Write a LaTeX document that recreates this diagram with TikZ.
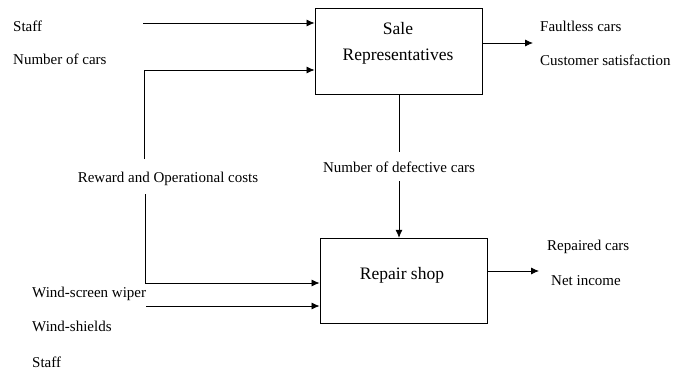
\documentclass[tikz,border=0pt]{standalone}
\usepackage{fontspec}
\setmainfont{Liberation Serif}
\usetikzlibrary{shapes,arrows.meta}

\begin{document}
\begin{tikzpicture}[x=1pt,y=-1pt,font=\fontsize{15}{17}\selectfont]
      % Sizes
      \pgfmathsetmacro{\boxw}{167}
      \pgfmathsetmacro{\boxh}{85.5}
      \tikzset{
        block/.style={draw, line width=0.9pt, minimum width=\boxw pt, minimum height=\boxh pt, inner sep=0pt},
        flow/.style={-{Latex[length=8pt,width=7pt]}, line width=0.8pt},
        inlbl/.style={anchor=base west, inner sep=0pt},
        midlbl/.style={anchor=base, inner sep=0pt},
        boxlbl/.style={anchor=base, inner sep=0pt, font=\fontsize{17.5}{20}\selectfont},
      }
      \useasboundingbox (0,0) rectangle (688,369);

      % blocks
      \node[block] (sale) at (398.5,51.5) {};
      \node[boxlbl] (saletop) at (398,35) {Sale};
      \node[boxlbl] (salebot) at (398,60) {Representatives};
      \node[block] (repair) at (403.5,281) {};
      \node[boxlbl] (repairlbl) at (402,279) {Repair shop};

      % labels
      \node[inlbl] (staffa) at (13,32) {Staff};
      \node[inlbl] (ncars) at (13,65) {Number of cars};
      \node[midlbl] (reward) at (168,182) {Reward and Operational costs};
      \node[midlbl, inner ysep=9pt] (defect) at (399,172) {Number of defective cars};
      \node[inlbl] (wiper) at (32,297) {Wind-screen wiper};
      \node[inlbl] (shields) at (32,331) {Wind-shields};
      \node[inlbl] (staffb) at (32,367) {Staff};
      \node[inlbl] (faultless) at (540,32) {Faultless cars};
      \node[inlbl] (satisf) at (540,66) {Customer satisfaction};
      \node[inlbl] (repaired) at (547,250) {Repaired cars};
      \node[inlbl] (income) at (551,285) {Net income};

      % free ends
      \coordinate (staffin) at (143,23);
      \coordinate (rwtop) at (144,159);
      \coordinate (rwbot) at (145,194);
      \coordinate (wiperin) at (146,306);
      \coordinate (saleout) at (533,43);
      \coordinate (repairout) at (539,271);

      % connectors
      \draw[flow] (staffin) -- (sale.west |- staffin);
      \draw[flow] (rwtop) |- ([yshift=-18.5pt]sale.west);
      \draw[flow] (rwbot) |- ([yshift=-2pt]repair.west);
      \draw[flow] (wiperin) -- (repair.west |- wiperin);
      \draw[line width=0.8pt] (defect.north |- sale.south) -- (defect.north);
      \draw[flow] (defect.south) -- (defect.south |- repair.north);
      \draw[flow] (sale.east |- saleout) -- (saleout);
      \draw[flow] (repair.east |- repairout) -- (repairout);
\end{tikzpicture}
\end{document}
